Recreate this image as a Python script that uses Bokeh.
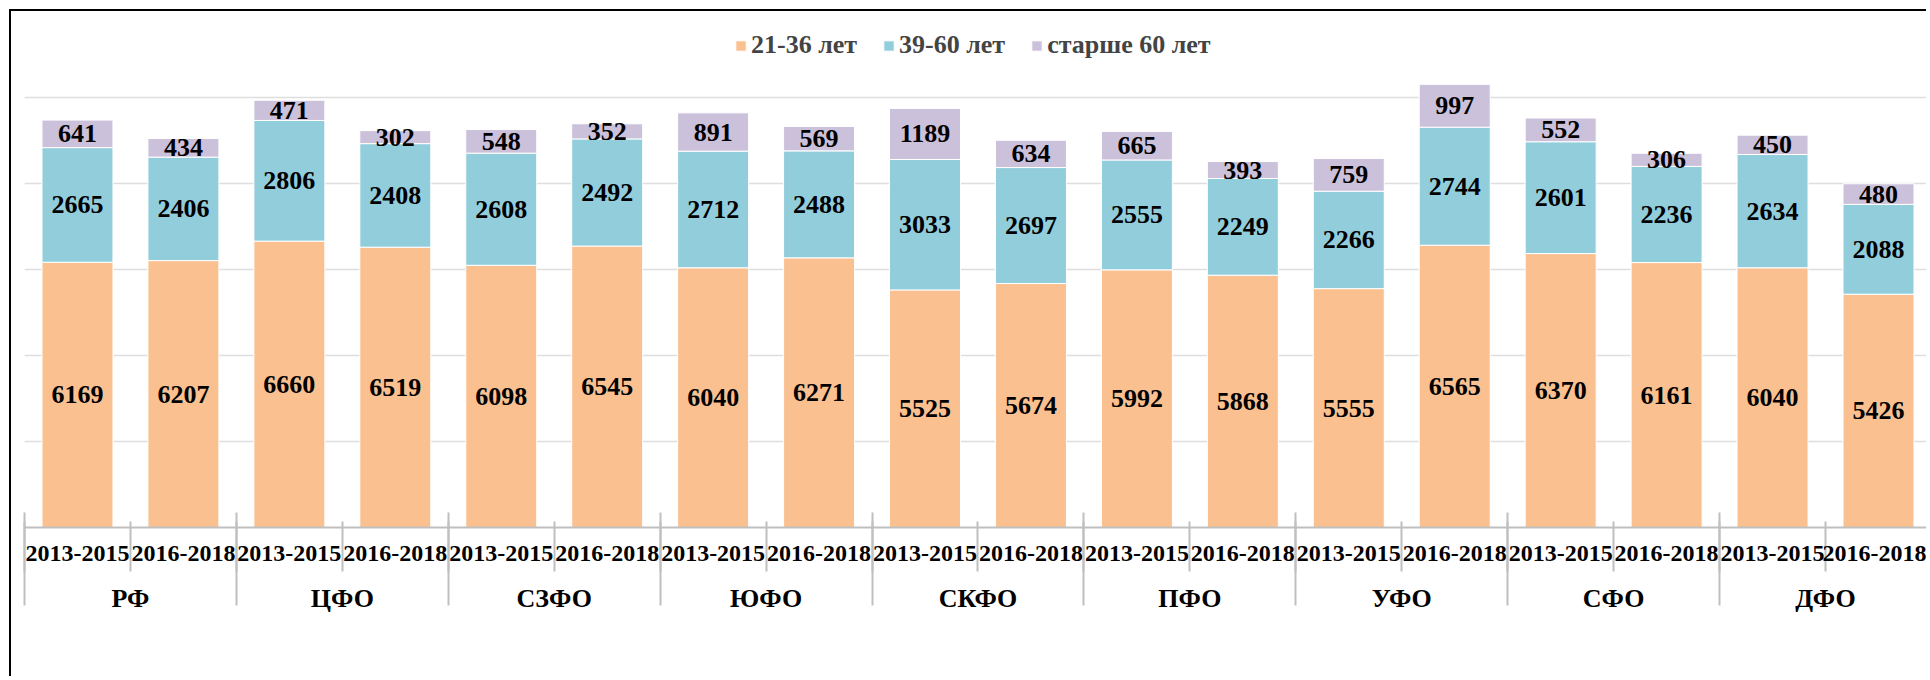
import numpy as np
from bokeh.plotting import figure
from bokeh.models import (ColumnDataSource, Range1d, LinearAxis, FixedTicker, Grid)
from bokeh.core.properties import value
from bokeh.embed import file_html
from bokeh.resources import INLINE

# ---------------- data ----------------
regions = ["РФ", "ЦФО", "СЗФО", "ЮФО", "СКФО", "ПФО", "УФО", "СФО", "ДФО"]
periods = ["2013-2015", "2016-2018"]
series_names = ["21-36 лет", "39-60 лет", "старше 60 лет"]
age_21_36 = [6169, 6207, 6660, 6519, 6098, 6545, 6040, 6271, 5525,
             5674, 5992, 5868, 5555, 6565, 6370, 6161, 6040, 5426]
age_39_60 = [2665, 2406, 2806, 2408, 2608, 2492, 2712, 2488, 3033,
             2697, 2555, 2249, 2266, 2744, 2601, 2236, 2634, 2088]
age_60_plus = [641, 434, 471, 302, 548, 352, 891, 569, 1189,
               634, 665, 393, 759, 997, 552, 306, 450, 480]
colors = ["#FAC090", "#92CDDC", "#CCC1DA"]

FONT = "Liberation Serif"
n = len(age_21_36)
xs = list(range(n))

src = ColumnDataSource(dict(x=xs, a=age_21_36, b=age_39_60, c=age_60_plus))

W, H = 1917, 667
p = figure(width=W, height=H, output_backend="svg", toolbar_location=None,
           x_axis_location=None, y_axis_location=None,
           x_range=Range1d(-0.5, 17.472), y_range=Range1d(0, 12000),
           min_border_left=13, min_border_right=0, min_border_top=0,
           min_border_bottom=151, outline_line_color=None,
           background_fill_color="white", border_fill_color="white")
p.styles = {"margin-left": "9px", "margin-top": "9px",
            "border-left": "2px solid black", "border-top": "2px solid black"}

# hide default grids, use only horizontal value grid
for g in p.grid:
    g.visible = False
grid = Grid(dimension=1, ticker=FixedTicker(ticks=[2000, 4000, 6000, 8000, 10000, 12000]),
            grid_line_color="#dedede", grid_line_width=1.5)
p.add_layout(grid)

p.vbar_stack(["a", "b", "c"], x="x", width=0.67, source=src, color=colors,
             line_color="white", line_width=1, legend_label=series_names)

# data labels
layers = [age_21_36, age_39_60, age_60_plus]
cum = np.zeros(n)
for vals in layers:
    v = np.array(vals, dtype=float)
    mids = cum + v / 2
    cum = cum + v
    lsrc = ColumnDataSource(dict(x=xs, y=mids, t=[str(s) for s in vals]))
    p.text(x="x", y="y", text="t", source=lsrc, text_align="center",
           text_baseline="middle", text_font=value(FONT), text_font_style="bold",
           text_font_size="26px", text_color="black")

# period axis
bounds = [i - 0.5 for i in range(n + 1)]
ax1 = LinearAxis(ticker=FixedTicker(ticks=xs, minor_ticks=bounds),
                 major_label_overrides={i: periods[i % 2] for i in xs},
                 major_tick_in=0, major_tick_out=0,
                 minor_tick_in=6, minor_tick_out=44,
                 minor_tick_line_color="#bfbfbf", minor_tick_line_width=2,
                 axis_line_color="#bfbfbf", axis_line_width=2,
                 major_label_text_font=FONT, major_label_text_font_style="bold",
                 major_label_text_font_size="24px", major_label_text_color="black",
                 major_label_standoff=-26)
p.add_layout(ax1, "below")

# region axis
gcent = [2 * k + 0.5 for k in range(len(regions))]
gbounds = [2 * k - 0.5 for k in range(len(regions) + 1)]
ax2 = LinearAxis(ticker=FixedTicker(ticks=gcent, minor_ticks=gbounds),
                 major_label_overrides={g: r for g, r in zip(gcent, regions)},
                 major_tick_in=0, major_tick_out=0,
                 minor_tick_in=51, minor_tick_out=42,
                 minor_tick_line_color="#bfbfbf", minor_tick_line_width=2,
                 axis_line_color=None,
                 major_label_text_font=FONT, major_label_text_font_style="bold",
                 major_label_text_font_size="26px", major_label_text_color="black",
                 major_label_standoff=-22)
p.add_layout(ax2, "below")

lg = p.legend[0]
lg.location = (710, 467)
lg.orientation = "horizontal"
lg.border_line_color = None
lg.background_fill_alpha = 0
lg.label_text_font = FONT
lg.label_text_font_style = "bold"
lg.label_text_font_size = "26px"
lg.glyph_width = 13
lg.glyph_height = 13
lg.label_standoff = 4
lg.spacing = 25
lg.padding = 0
lg.margin = 0
lg.label_height = 30

open("out.html", "w").write(file_html(p, INLINE))
